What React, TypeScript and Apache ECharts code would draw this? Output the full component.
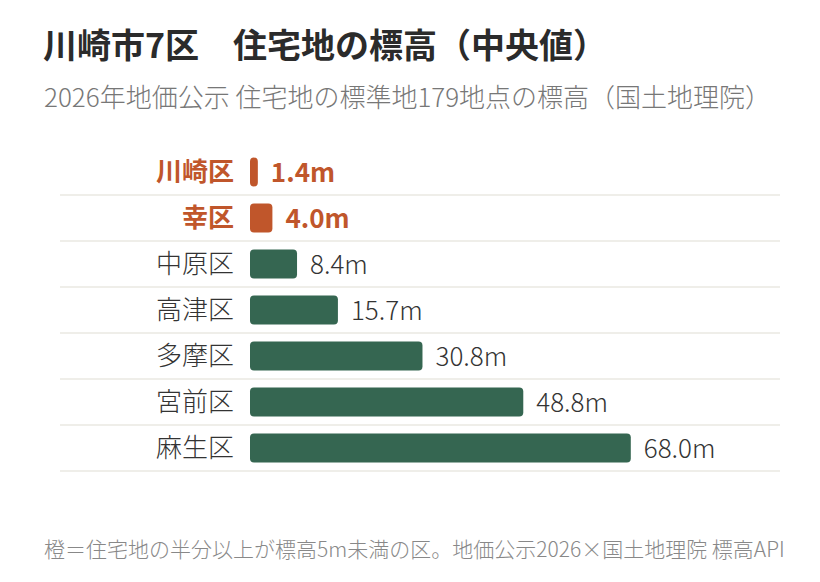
import * as echarts from "echarts";
import { useEffect, useRef } from "react";

const wards = ["川崎区", "幸区", "中原区", "高津区", "多摩区", "宮前区", "麻生区"];
const medianElevation = [1.4, 4.0, 8.4, 15.7, 30.8, 48.8, 68.0];
const lowLyingLimit = 5; // 標高5m未満 → 橙

const ORANGE = "#c0562b";
const GREEN = "#356651";
const FONT = "'Noto Sans CJK JP', 'Noto Sans', sans-serif";

const GRID_TOP = 149;
const ROW_H = 46;

const ElevationChart = () => {
  const chartRef = useRef<HTMLDivElement>(null);

  useEffect(() => {
    if (!chartRef.current) {
      return;
    }
    const chart = echarts.init(chartRef.current, null, { renderer: "svg" });

    // 行の区切り線（各行の下）
    const separators = wards.map((_, i) => ({
      type: "line",
      shape: { x1: 60, y1: GRID_TOP + ROW_H * (i + 1), x2: 780, y2: GRID_TOP + ROW_H * (i + 1) },
      style: { stroke: "#efeee9", lineWidth: 2 },
      z: 0,
    }));

    const option = {
      animation: false,
      backgroundColor: "#ffffff",
      textStyle: { fontFamily: FONT },
      title: [
        {
          text: "川崎市7区　住宅地の標高（中央値）",
          left: 38,
          top: 21,
          textStyle: { fontFamily: FONT, fontSize: 34, fontWeight: "bold", color: "#2b2b2b" },
        },
        {
          text: "2026年地価公示 住宅地の標準地179地点の標高（国土地理院）",
          left: 39,
          top: 77,
          textStyle: { fontFamily: FONT, fontSize: 26, fontWeight: 300, color: "#777777" },
        },
        {
          text: "橙＝住宅地の半分以上が標高5m未満の区。地価公示2026×国土地理院 標高API",
          left: 39,
          top: 532,
          textStyle: { fontFamily: FONT, fontSize: 21, fontWeight: 300, color: "#888888" },
        },
      ],
      graphic: separators,
      grid: { left: 250, right: 66, top: GRID_TOP, height: ROW_H * wards.length },
      xAxis: {
        type: "value",
        min: 0,
        max: 90,
        show: false,
      },
      yAxis: {
        type: "category",
        inverse: true,
        data: wards,
        axisLine: { show: false },
        axisTick: { show: false },
        splitLine: { show: false },
        axisLabel: {
          margin: 16,
          fontFamily: FONT,
          fontSize: 26,
          formatter: (v: string) => {
            const i = wards.indexOf(v);
            return medianElevation[i] < lowLyingLimit ? `{hl|${v}}` : `{n|${v}}`;
          },
          rich: {
            hl: { color: ORANGE, fontWeight: "bold", fontSize: 26, fontFamily: FONT, padding: [0, 0, 5, 0] },
            n: { color: "#333333", fontWeight: 300, fontSize: 26, fontFamily: FONT, padding: [0, 0, 5, 0] },
          },
        },
      },
      series: [
        {
          type: "bar",
          barWidth: 29,
          data: medianElevation.map((v) => {
            const low = v < lowLyingLimit;
            return {
              value: v,
              itemStyle: { color: low ? ORANGE : GREEN, borderRadius: 4 },
              label: {
                color: low ? ORANGE : "#333333",
                fontWeight: low ? "bold" : 300,
              },
            };
          }),
          label: {
            show: true,
            position: "right",
            distance: 13,
            offset: [0, -2],
            fontFamily: FONT,
            fontSize: 26,
            formatter: (p: any) => `${p.value.toFixed(1)}m`,
          },
        },
      ],
    };

    chart.setOption(option as any);
    return () => {
      chart.dispose();
    };
  }, []);

  return (
    <div
      ref={chartRef}
      style={{ position: "fixed", left: 0, top: 0, width: "820px", height: "582px" }}
    ></div>
  );
};

export default function App() {
  return <ElevationChart />;
}
